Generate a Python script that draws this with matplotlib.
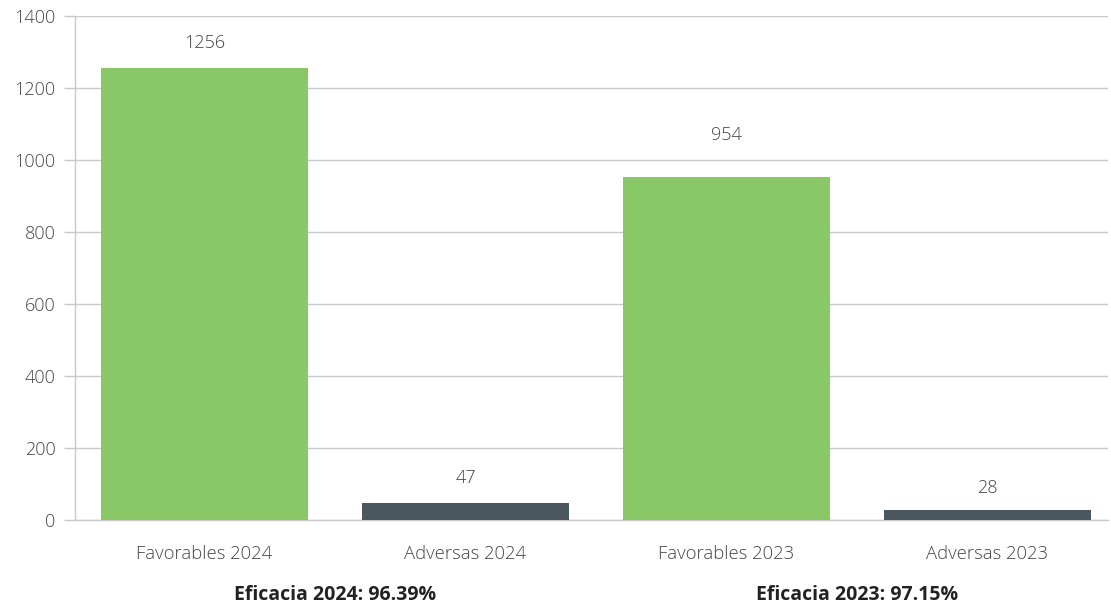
import numpy as np
import matplotlib.pyplot as plt

# Data
categories = ['Favorables 2024', 'Adversas 2024', 'Favorables 2023', 'Adversas 2023']
values = [1256, 47, 954, 28]
efficacy_labels = ['Eficacia 2024: 96.39%', 'Eficacia 2023: 97.15%']

green = '#89c866'
slate = '#4b575e'
colors = [green, slate, green, slate]
label_offsets = [18, 18, 30, 16]  # points above bar top

plt.rcParams['font.family'] = ['Open Sans', 'DejaVu Sans']

fig = plt.figure(figsize=(11.11, 6.08), dpi=100)
ax = fig.add_axes([75 / 1111, 1 - 520 / 608, (1108 - 75) / 1111, (520 - 16) / 608])

x = np.arange(len(categories))
bars = ax.bar(x, values, width=0.793, color=colors, zorder=3)

ax.set_xlim(-0.496, 3.462)
ax.set_ylim(0, 1400)
ax.set_yticks(np.arange(0, 1401, 200))
ax.yaxis.grid(True, color='#c9c9c9', linewidth=1.0, zorder=0)
ax.tick_params(axis='y', length=8, color='#c9c9c9', width=1.0, labelsize=13,
               labelcolor='#444444', pad=6)
for lbl in ax.get_yticklabels():
    lbl.set_fontweight('light')

ax.set_xticks(x)
ax.set_xticklabels(categories, fontsize=13.3, color='#444444', fontweight='light')
ax.tick_params(axis='x', length=0, pad=18)

for side in ['top', 'right']:
    ax.spines[side].set_visible(False)
ax.spines['left'].set_color('#c9c9c9')
ax.spines['bottom'].set_color('#c9c9c9')
ax.spines['left'].set_linewidth(1.0)
ax.spines['bottom'].set_linewidth(1.0)

for b, v, off in zip(bars, values, label_offsets):
    ax.annotate(str(v), (b.get_x() + b.get_width() / 2, v), xytext=(0, off),
                textcoords='offset points', ha='center', va='center',
                fontsize=13, color='#444444', fontweight='light')

# efficacy labels under each pair
for i, txt in enumerate(efficacy_labels):
    xc = (x[2 * i] + x[2 * i + 1]) / 2
    ax.text(xc, -0.148, txt, transform=ax.get_xaxis_transform(), ha='center',
            va='center', fontsize=14, fontweight='bold', color='#222222')

fig.savefig('out.png', dpi=100)
